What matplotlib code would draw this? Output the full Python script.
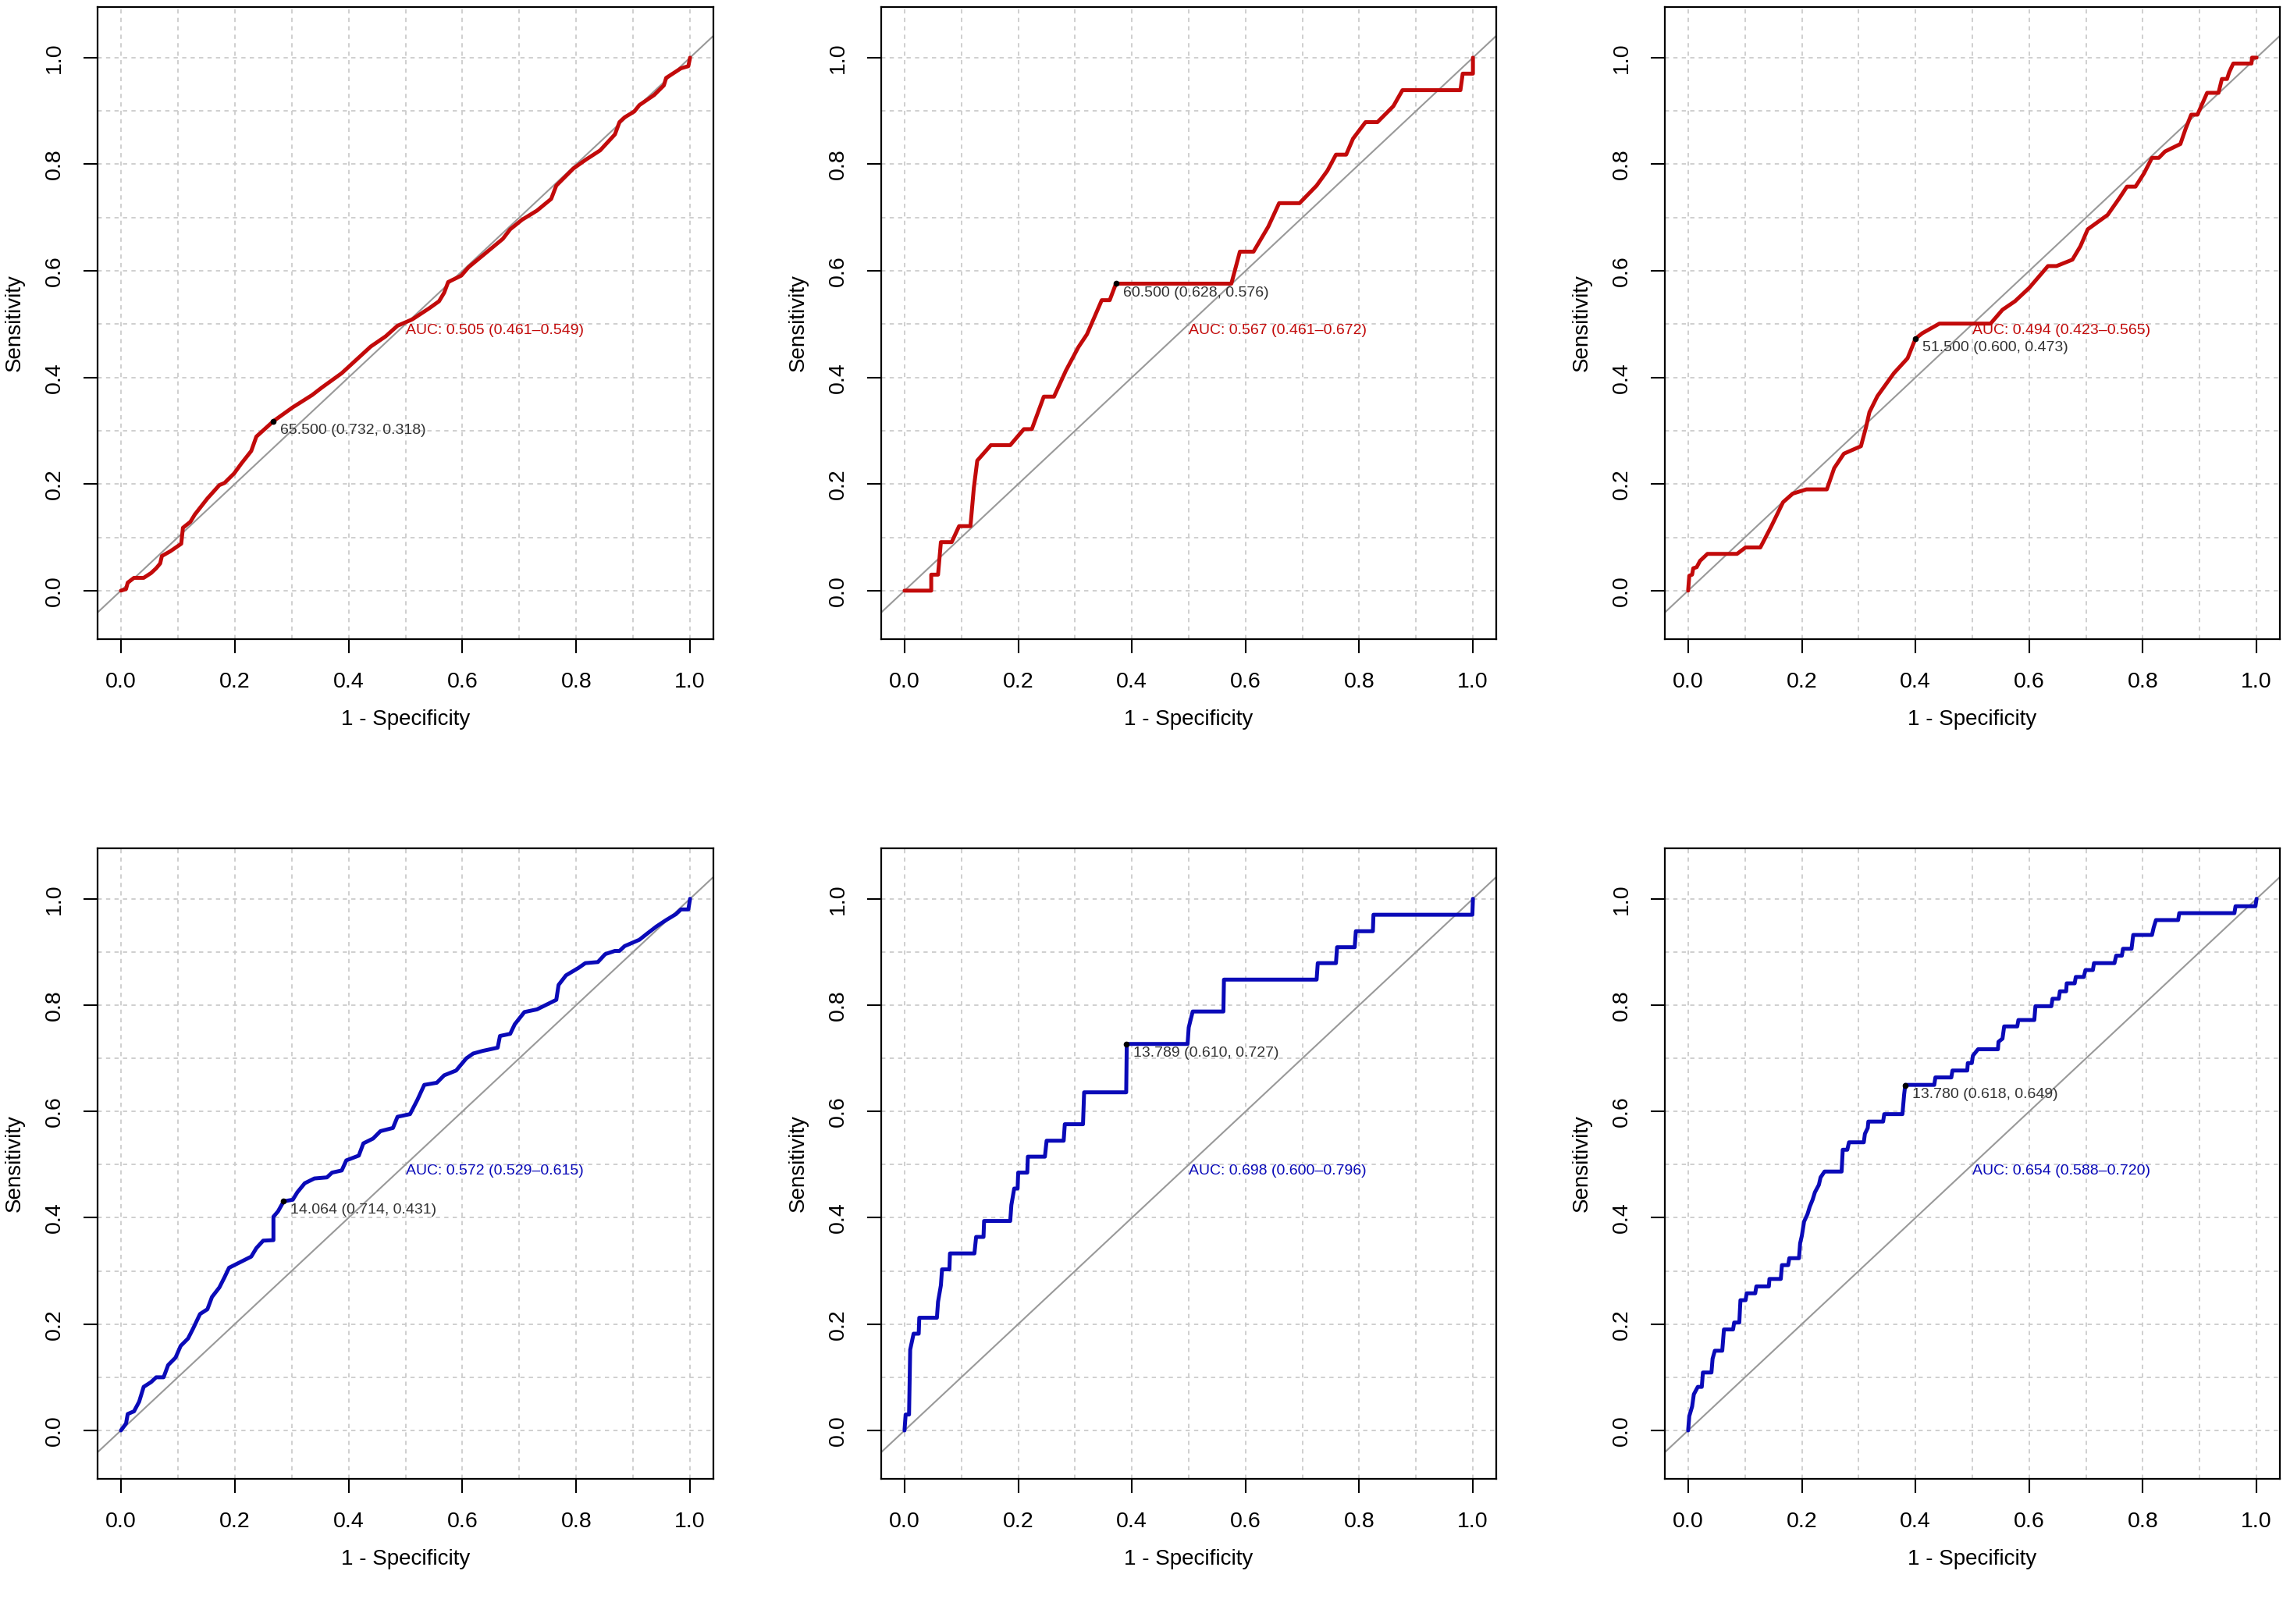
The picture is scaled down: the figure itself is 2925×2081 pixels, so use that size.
import numpy as np
import matplotlib
matplotlib.use("Agg")
import matplotlib.pyplot as plt

plt.rcParams['font.family'] = ['Liberation Sans', 'DejaVu Sans']

# ROC curves, x = 1 - specificity, y = sensitivity
fpr_1 = [0, 0.009, 0.012, 0.023, 0.040, 0.053, 0.062, 0.069, 0.072, 0.087, 0.106, 0.109, 0.122, 0.130,
         0.152, 0.173, 0.182, 0.199, 0.212, 0.229, 0.238, 0.268, 0.302, 0.336, 0.353, 0.388, 0.439, 0.465,
         0.486, 0.512, 0.542, 0.559, 0.568, 0.575, 0.598, 0.611, 0.645, 0.671, 0.684, 0.705, 0.731, 0.756,
         0.765, 0.795, 0.816, 0.842, 0.868, 0.876, 0.885, 0.902, 0.911, 0.937, 0.954, 0.958, 0.971, 0.984,
         0.997, 1.0]
tpr_1 = [0, 0.003, 0.015, 0.024, 0.024, 0.033, 0.042, 0.051, 0.065, 0.074, 0.088, 0.118, 0.129, 0.143,
         0.173, 0.198, 0.202, 0.220, 0.239, 0.262, 0.289, 0.318, 0.344, 0.367, 0.381, 0.408, 0.458, 0.477,
         0.497, 0.509, 0.530, 0.543, 0.559, 0.579, 0.591, 0.607, 0.637, 0.660, 0.678, 0.696, 0.713, 0.735,
         0.760, 0.792, 0.808, 0.826, 0.856, 0.879, 0.888, 0.899, 0.911, 0.930, 0.948, 0.962, 0.971, 0.980,
         0.984, 1.0]

fpr_2 = [0, 0.047, 0.047, 0.059, 0.064, 0.083, 0.096, 0.116, 0.122, 0.128, 0.152, 0.186, 0.210, 0.224,
         0.245, 0.263, 0.284, 0.306, 0.321, 0.347, 0.361, 0.372, 0.575, 0.590, 0.614, 0.640, 0.659, 0.695,
         0.725, 0.744, 0.759, 0.777, 0.789, 0.811, 0.832, 0.860, 0.876, 0.978, 0.982, 1.0, 1.0]
tpr_2 = [0, 0, 0.030, 0.030, 0.091, 0.091, 0.121, 0.121, 0.193, 0.244, 0.273, 0.273, 0.303, 0.303,
         0.364, 0.364, 0.413, 0.457, 0.481, 0.545, 0.545, 0.576, 0.576, 0.636, 0.636, 0.683, 0.727, 0.727,
         0.760, 0.788, 0.818, 0.818, 0.848, 0.879, 0.879, 0.909, 0.939, 0.939, 0.970, 0.970, 1.0]

fpr_3 = [0, 0.002, 0.007, 0.009, 0.015, 0.021, 0.034, 0.086, 0.101, 0.127, 0.146, 0.167, 0.184, 0.208,
         0.244, 0.257, 0.274, 0.304, 0.313, 0.319, 0.333, 0.362, 0.386, 0.400, 0.412, 0.442, 0.532, 0.553,
         0.575, 0.600, 0.633, 0.648, 0.676, 0.690, 0.703, 0.738, 0.759, 0.772, 0.787, 0.802, 0.816, 0.828,
         0.839, 0.866, 0.875, 0.885, 0.896, 0.913, 0.933, 0.939, 0.948, 0.952, 0.959, 0.991, 0.992, 1.0]
tpr_3 = [0, 0.028, 0.030, 0.042, 0.044, 0.056, 0.069, 0.069, 0.081, 0.081, 0.120, 0.166, 0.182, 0.190,
         0.190, 0.230, 0.257, 0.271, 0.307, 0.335, 0.365, 0.408, 0.436, 0.473, 0.483, 0.501, 0.501, 0.527,
         0.543, 0.568, 0.609, 0.609, 0.621, 0.646, 0.678, 0.705, 0.737, 0.758, 0.758, 0.783, 0.812, 0.812,
         0.824, 0.838, 0.866, 0.893, 0.893, 0.934, 0.934, 0.960, 0.960, 0.973, 0.989, 0.989, 1.0, 1.0]

fpr_4 = [0, 0.009, 0.012, 0.023, 0.032, 0.040, 0.053, 0.062, 0.075, 0.083, 0.096, 0.105, 0.118, 0.127,
         0.139, 0.152, 0.160, 0.173, 0.182, 0.190, 0.203, 0.216, 0.229, 0.238, 0.250, 0.268, 0.268, 0.276,
         0.286, 0.302, 0.310, 0.323, 0.340, 0.362, 0.371, 0.388, 0.396, 0.418, 0.426, 0.443, 0.456, 0.478,
         0.486, 0.508, 0.521, 0.533, 0.555, 0.568, 0.589, 0.607, 0.619, 0.636, 0.662, 0.666, 0.684, 0.692,
         0.709, 0.731, 0.748, 0.765, 0.769, 0.782, 0.804, 0.816, 0.838, 0.851, 0.868, 0.876, 0.885, 0.911,
         0.924, 0.941, 0.958, 0.975, 0.984, 0.997, 1.0]
tpr_4 = [0, 0.013, 0.031, 0.036, 0.054, 0.082, 0.091, 0.100, 0.100, 0.123, 0.137, 0.159, 0.173, 0.192,
         0.219, 0.228, 0.251, 0.269, 0.288, 0.306, 0.313, 0.320, 0.327, 0.343, 0.357, 0.358, 0.402, 0.412,
         0.431, 0.434, 0.448, 0.465, 0.474, 0.476, 0.485, 0.489, 0.508, 0.517, 0.540, 0.549, 0.563, 0.569,
         0.590, 0.595, 0.622, 0.650, 0.654, 0.668, 0.677, 0.700, 0.709, 0.714, 0.720, 0.742, 0.746, 0.764,
         0.787, 0.792, 0.801, 0.810, 0.838, 0.856, 0.870, 0.879, 0.881, 0.896, 0.902, 0.902, 0.911, 0.923,
         0.934, 0.948, 0.960, 0.971, 0.980, 0.980, 1.0]

fpr_5 = [0, 0.002, 0.008, 0.010, 0.016, 0.025, 0.026, 0.057, 0.059, 0.064, 0.066, 0.079, 0.080, 0.123,
         0.126, 0.139, 0.140, 0.186, 0.188, 0.193, 0.199, 0.200, 0.216, 0.217, 0.247, 0.250, 0.280, 0.282,
         0.314, 0.316, 0.390, 0.391, 0.498, 0.500, 0.507, 0.561, 0.562, 0.725, 0.727, 0.759, 0.761, 0.792,
         0.794, 0.824, 0.825, 0.999, 1.0]
tpr_5 = [0, 0.030, 0.030, 0.152, 0.182, 0.182, 0.212, 0.212, 0.242, 0.273, 0.303, 0.303, 0.333, 0.333,
         0.364, 0.364, 0.394, 0.394, 0.424, 0.455, 0.455, 0.485, 0.485, 0.515, 0.515, 0.545, 0.545, 0.576,
         0.576, 0.636, 0.636, 0.727, 0.727, 0.758, 0.788, 0.788, 0.848, 0.848, 0.879, 0.879, 0.909, 0.909,
         0.939, 0.939, 0.970, 0.970, 1.0]

fpr_6 = [0, 0.002, 0.007, 0.010, 0.017, 0.024, 0.026, 0.041, 0.043, 0.047, 0.060, 0.063, 0.079, 0.081,
         0.090, 0.092, 0.101, 0.103, 0.118, 0.120, 0.142, 0.143, 0.163, 0.165, 0.176, 0.178, 0.195, 0.197,
         0.200, 0.204, 0.210, 0.214, 0.219, 0.223, 0.230, 0.233, 0.240, 0.270, 0.272, 0.280, 0.283, 0.309,
         0.311, 0.316, 0.317, 0.343, 0.345, 0.377, 0.380, 0.382, 0.433, 0.435, 0.463, 0.465, 0.491, 0.492,
         0.499, 0.501, 0.510, 0.545, 0.546, 0.553, 0.556, 0.579, 0.581, 0.609, 0.611, 0.639, 0.641, 0.652,
         0.654, 0.665, 0.666, 0.680, 0.682, 0.696, 0.699, 0.712, 0.714, 0.750, 0.753, 0.763, 0.765, 0.780,
         0.783, 0.816, 0.819, 0.823, 0.862, 0.864, 0.961, 0.963, 0.998, 1.0]
tpr_6 = [0, 0.027, 0.045, 0.068, 0.082, 0.082, 0.109, 0.109, 0.135, 0.150, 0.150, 0.190, 0.190, 0.203,
         0.203, 0.245, 0.245, 0.258, 0.258, 0.271, 0.271, 0.285, 0.285, 0.311, 0.311, 0.324, 0.324, 0.352,
         0.366, 0.393, 0.407, 0.421, 0.434, 0.448, 0.462, 0.476, 0.487, 0.487, 0.528, 0.528, 0.542, 0.542,
         0.558, 0.569, 0.581, 0.581, 0.595, 0.595, 0.632, 0.650, 0.650, 0.664, 0.664, 0.677, 0.677, 0.691,
         0.691, 0.705, 0.717, 0.717, 0.731, 0.737, 0.760, 0.760, 0.772, 0.772, 0.798, 0.798, 0.812, 0.812,
         0.826, 0.826, 0.841, 0.841, 0.853, 0.853, 0.866, 0.866, 0.879, 0.879, 0.893, 0.893, 0.906, 0.906,
         0.932, 0.932, 0.946, 0.960, 0.960, 0.973, 0.973, 0.986, 0.986, 1.0]

curves_x = [fpr_1, fpr_2, fpr_3, fpr_4, fpr_5, fpr_6]
curves_y = [tpr_1, tpr_2, tpr_3, tpr_4, tpr_5, tpr_6]

# best threshold: value, specificity, sensitivity
thres_val = [65.500, 60.500, 51.500, 14.064, 13.789, 13.780]
thres_spec = [0.732, 0.628, 0.600, 0.714, 0.610, 0.618]
thres_sens = [0.318, 0.576, 0.473, 0.431, 0.727, 0.649]

auc_val = [0.505, 0.567, 0.494, 0.572, 0.698, 0.654]
auc_lo = [0.461, 0.461, 0.423, 0.529, 0.600, 0.588]
auc_hi = [0.549, 0.672, 0.565, 0.615, 0.796, 0.720]

colors = ['#c20a0a'] * 3 + ['#0a0ab8'] * 3

W, H = 2925, 2081
fig = plt.figure(figsize=(W / 100, H / 100), dpi=100)
col_left = [125, 1129, 2133]
col_w = [789, 788, 788]
row_bottom = [1262, 186]
row_h = [810, 808]

ticks = [0, 0.2, 0.4, 0.6, 0.8, 1.0]
grid_at = np.arange(0, 1.01, 0.1)

for i in range(6):
    r, c = divmod(i, 3)
    ax = fig.add_axes([col_left[c] / W, row_bottom[r] / H, col_w[c] / W, row_h[r] / H])
    ax.set_xlim(-0.041, 1.041)
    ax.set_ylim(-0.091, 1.095)

    for g in grid_at:
        ax.axvline(g, color='#cccccc', lw=1.3, ls=(0, (3, 3)), zorder=1)
        ax.axhline(g, color='#cccccc', lw=1.3, ls=(0, (3, 3)), zorder=1)

    ax.axline((0, 0), (1, 1), color='#999999', lw=1.5, zorder=2)
    ax.plot(curves_x[i], curves_y[i], color=colors[i], lw=3.6,
            solid_joinstyle='round', solid_capstyle='round', zorder=3)

    tx = 1 - thres_spec[i]
    ty = thres_sens[i]
    ax.plot([tx], [ty], 'o', color='black', ms=4.5, zorder=4)
    ax.text(tx + 0.012, ty - 0.017,
            '%.3f (%.3f, %.3f)' % (thres_val[i], thres_spec[i], thres_sens[i]),
            ha='left', va='center', fontsize=14, color='#333333', zorder=5)

    ax.text(0.5, 0.488, 'AUC: %.3f (%.3f\u2013%.3f)' % (auc_val[i], auc_lo[i], auc_hi[i]),
            ha='left', va='center', fontsize=14, color=colors[i], zorder=5)

    ax.set_xticks(ticks)
    ax.set_yticks(ticks)
    ax.set_xticklabels(['%.1f' % t for t in ticks], fontsize=20.5)
    ax.set_yticklabels(['%.1f' % t for t in ticks], fontsize=20.5, rotation=90, va='center')
    ax.tick_params(length=13, width=1.5, pad=17, direction='out')
    for s in ax.spines.values():
        s.set_linewidth(1.6)

    ax.set_xlabel('1 - Specificity', fontsize=20, va='center')
    ax.set_ylabel('Sensitivity', fontsize=20, va='center')
    ax.xaxis.set_label_coords(0.5, -103 / row_h[r])
    ax.yaxis.set_label_coords(-106 / col_w[c], 0.5)

fig.savefig('out.png', dpi=100, facecolor='white')
